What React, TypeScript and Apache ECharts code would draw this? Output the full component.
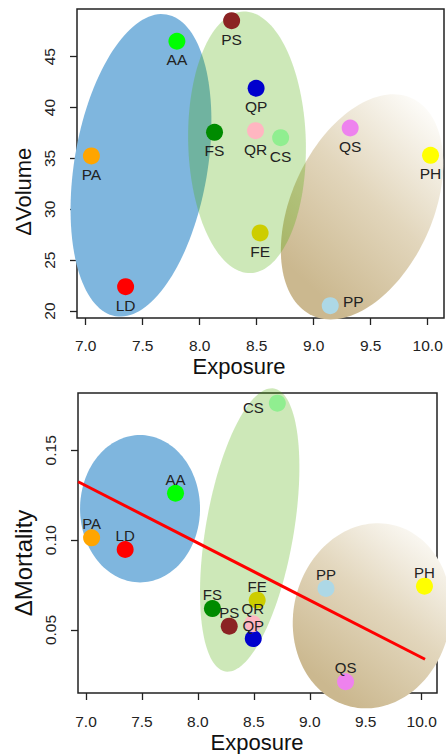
import React, { useEffect, useRef } from 'react';
import * as echarts from 'echarts';

// ---------- data ----------
const codes = ['PS', 'AA', 'QP', 'FS', 'QR', 'CS', 'QS', 'PA', 'PH', 'FE', 'LD', 'PP'];
const pointColors = ['#8b2323', '#00ff00', '#0000cd', '#008b00', '#ffb6c1', '#90ee90', '#ee82ee', '#ffa500', '#ffff00', '#cdcd00', '#ff0000', '#add8e6'];
const exposure = [8.28, 7.80, 8.495, 8.13, 8.49, 8.71, 9.32, 7.05, 10.025, 8.53, 7.35, 9.145];
const deltaVolume = [48.54, 46.52, 41.9, 37.57, 37.73, 37.04, 37.99, 35.24, 35.31, 27.67, 22.39, 20.52];
const deltaMortality = [0.0521, 0.1261, 0.0452, 0.0619, 0.0535, 0.1762, 0.0212, 0.1013, 0.0744, 0.0666, 0.0948, 0.0731];

// group ellipses: centre (Exposure, response), semi-major (response units), semi-minor (Exposure units), tilt (deg)
const volEllipseX = [7.485, 9.424, 8.415];
const volEllipseY = [34.32, 30.24, 36.585];
const volEllipseMajor = [15.04, 11.75, 12.86];
const volEllipseMinor = [0.584, 0.619, 0.516];
const volEllipseTilt = [9.6, 24.6, -1.5];

const mortEllipseX = [7.483, 9.555, 8.463];
const mortEllipseY = [0.1175, 0.0579, 0.10565];
const mortEllipseMajor = [0.041, 0.0519, 0.0799];
const mortEllipseMinor = [0.536, 0.70, 0.393];
const mortEllipseTilt = [0, 12.95, 9.75];

// regression line for ΔMortality ~ Exposure
const fitX = [6.93, 10.03];
const fitY = [0.1325, 0.0337];

const exposureTicks = [7, 7.5, 8, 8.5, 9, 9.5, 10];
const volumeTicks = [20, 25, 30, 35, 40, 45];
const mortalityTicks = [0.05, 0.1, 0.15];

// ---------- styles ----------
const FONT = '"Liberation Sans", Arial, sans-serif';
const INK = '#222';

const tanGradient = () =>
  new echarts.graphic.LinearGradient(0.85, 0.02, 0.25, 0.9, [
    { offset: 0, color: '#fdfcf9' },
    { offset: 0.5, color: '#e2d6bc' },
    { offset: 1, color: '#cbb88f' },
  ]);

const ellipseStyles = () => [
  { fill: '#7fb6de' },
  { fill: tanGradient() },
  { fill: 'rgba(76,173,0,0.28)' },
];

function ellipseRender(params: any, api: any) {
  const cx = api.value(0);
  const cy = api.value(1);
  const major = api.value(2);
  const minor = api.value(3);
  const tilt = (api.value(4) * Math.PI) / 180;
  const c = api.coord([cx, cy]);
  const s = api.size([minor, major], [cx, cy]);
  const B = s[0];
  const A = s[1];
  const ux = Math.sin(tilt), uy = -Math.cos(tilt);
  const vx = Math.cos(tilt), vy = Math.sin(tilt);
  const pts: number[][] = [];
  const n = 144;
  for (let i = 0; i < n; i++) {
    const t = (i / n) * Math.PI * 2;
    const a = A * Math.sin(t);
    const b = B * Math.cos(t);
    pts.push([c[0] + a * ux + b * vx, c[1] + a * uy + b * vy]);
  }
  return {
    type: 'polygon',
    shape: { points: pts },
    style: ellipseStyles()[params.dataIndex],
  };
}

function buildEllipseData(xs: number[], ys: number[], maj: number[], mi: number[], tilt: number[]) {
  return xs.map((x, i) => [x, ys[i], maj[i], mi[i], tilt[i]]);
}

function buildPoints(ys: number[], defaultOffset: number[], special: Record<string, number[]>) {
  return codes.map((code, i) => ({
    name: code,
    value: [exposure[i], ys[i]],
    itemStyle: { color: pointColors[i], opacity: 1 },
    label: { offset: special[code] || defaultOffset },
  }));
}

const labelBase = {
  show: true,
  formatter: '{b}',
  position: 'inside',
  color: INK,
  fontSize: 15.5,
  fontFamily: FONT,
};

const tickStyle = { show: true, length: 7, inside: false, lineStyle: { color: INK, width: 1.3 } };
const axisLabelBase = { fontSize: 15.5, fontFamily: FONT, color: INK };

export default function App() {
  const ref = useRef<HTMLDivElement>(null);

  useEffect(() => {
    if (!ref.current) return;
    const chart = echarts.init(ref.current, null, { renderer: 'svg' });

    const option: any = {
      animation: false,
      backgroundColor: '#ffffff',
      grid: [
        { left: 77, top: 9, width: 367, height: 309, show: true, borderColor: INK, borderWidth: 1.5, backgroundColor: 'transparent' },
        { left: 78, top: 393, width: 359, height: 300, show: true, borderColor: INK, borderWidth: 1.5, backgroundColor: 'transparent' },
      ],
      xAxis: [
        {
          type: 'value', gridIndex: 0, min: 6.9237, max: 10.143,
          axisLine: { show: false }, splitLine: { show: false },
          axisTick: { ...tickStyle, customValues: exposureTicks },
          axisLabel: { ...axisLabelBase, margin: 19, customValues: exposureTicks, formatter: (v: number) => v.toFixed(1) },
        },
        {
          type: 'value', gridIndex: 1, min: 6.9285, max: 10.137,
          axisLine: { show: false }, splitLine: { show: false },
          axisTick: { ...tickStyle, customValues: exposureTicks },
          axisLabel: { ...axisLabelBase, margin: 20, customValues: exposureTicks, formatter: (v: number) => v.toFixed(1) },
        },
      ],
      yAxis: [
        {
          type: 'value', gridIndex: 0, min: 19.312, max: 49.69,
          axisLine: { show: false }, splitLine: { show: false },
          axisTick: { ...tickStyle, customValues: volumeTicks },
          axisLabel: { ...axisLabelBase, rotate: 90, margin: 20, customValues: volumeTicks, formatter: (v: number) => String(Math.round(v)) },
        },
        {
          type: 'value', gridIndex: 1, min: 0.01494, max: 0.18189,
          axisLine: { show: false }, splitLine: { show: false },
          axisTick: { ...tickStyle, customValues: mortalityTicks },
          axisLabel: { ...axisLabelBase, rotate: 90, margin: 20, customValues: mortalityTicks, formatter: (v: number) => v.toFixed(2) },
        },
      ],
      series: [
        {
          type: 'custom', xAxisIndex: 0, yAxisIndex: 0, z: 1, clip: false, silent: true,
          renderItem: ellipseRender,
          data: buildEllipseData(volEllipseX, volEllipseY, volEllipseMajor, volEllipseMinor, volEllipseTilt),
        },
        {
          type: 'custom', xAxisIndex: 1, yAxisIndex: 1, z: 1, clip: false, silent: true,
          renderItem: ellipseRender,
          data: buildEllipseData(mortEllipseX, mortEllipseY, mortEllipseMajor, mortEllipseMinor, mortEllipseTilt),
        },
        {
          type: 'line', xAxisIndex: 1, yAxisIndex: 1, z: 2, symbol: 'none', silent: true,
          lineStyle: { color: '#ff0000', width: 3 },
          data: fitX.map((x, i) => [x, fitY[i]]),
        },
        {
          type: 'scatter', xAxisIndex: 0, yAxisIndex: 0, z: 3, symbolSize: 17,
          label: labelBase,
          data: buildPoints(deltaVolume, [0, 18.5], { PP: [23, -4] }),
        },
        {
          type: 'scatter', xAxisIndex: 1, yAxisIndex: 1, z: 3, symbolSize: 17,
          label: { ...labelBase, fontSize: 15 },
          data: buildPoints(deltaMortality, [0, -14], { CS: [-24, 4], QR: [0, -15.5], QP: [0, -13] }),
        },
      ],
      graphic: [
        { type: 'text', x: 23, y: 191.7, rotation: Math.PI / 2, style: { text: 'ΔVolume', fontSize: 22, fontFamily: FONT, fill: '#111', align: 'center', verticalAlign: 'middle' } },
        { type: 'text', x: 239, y: 366, style: { text: 'Exposure', fontSize: 22, fontFamily: FONT, fill: '#111', align: 'center', verticalAlign: 'middle' } },
        { type: 'text', x: 23.3, y: 563, rotation: Math.PI / 2, style: { text: 'ΔMortality', fontSize: 24, fontFamily: FONT, fill: '#111', align: 'center', verticalAlign: 'middle' } },
        { type: 'text', x: 257, y: 742, style: { text: 'Exposure', fontSize: 22, fontFamily: FONT, fill: '#111', align: 'center', verticalAlign: 'middle' } },
      ],
    };

    chart.setOption(option);
    return () => chart.dispose();
  }, []);

  return (
    <div
      ref={ref}
      style={{ position: 'fixed', left: 0, top: 0, width: 446, height: 754, background: '#fff' }}
    />
  );
}
